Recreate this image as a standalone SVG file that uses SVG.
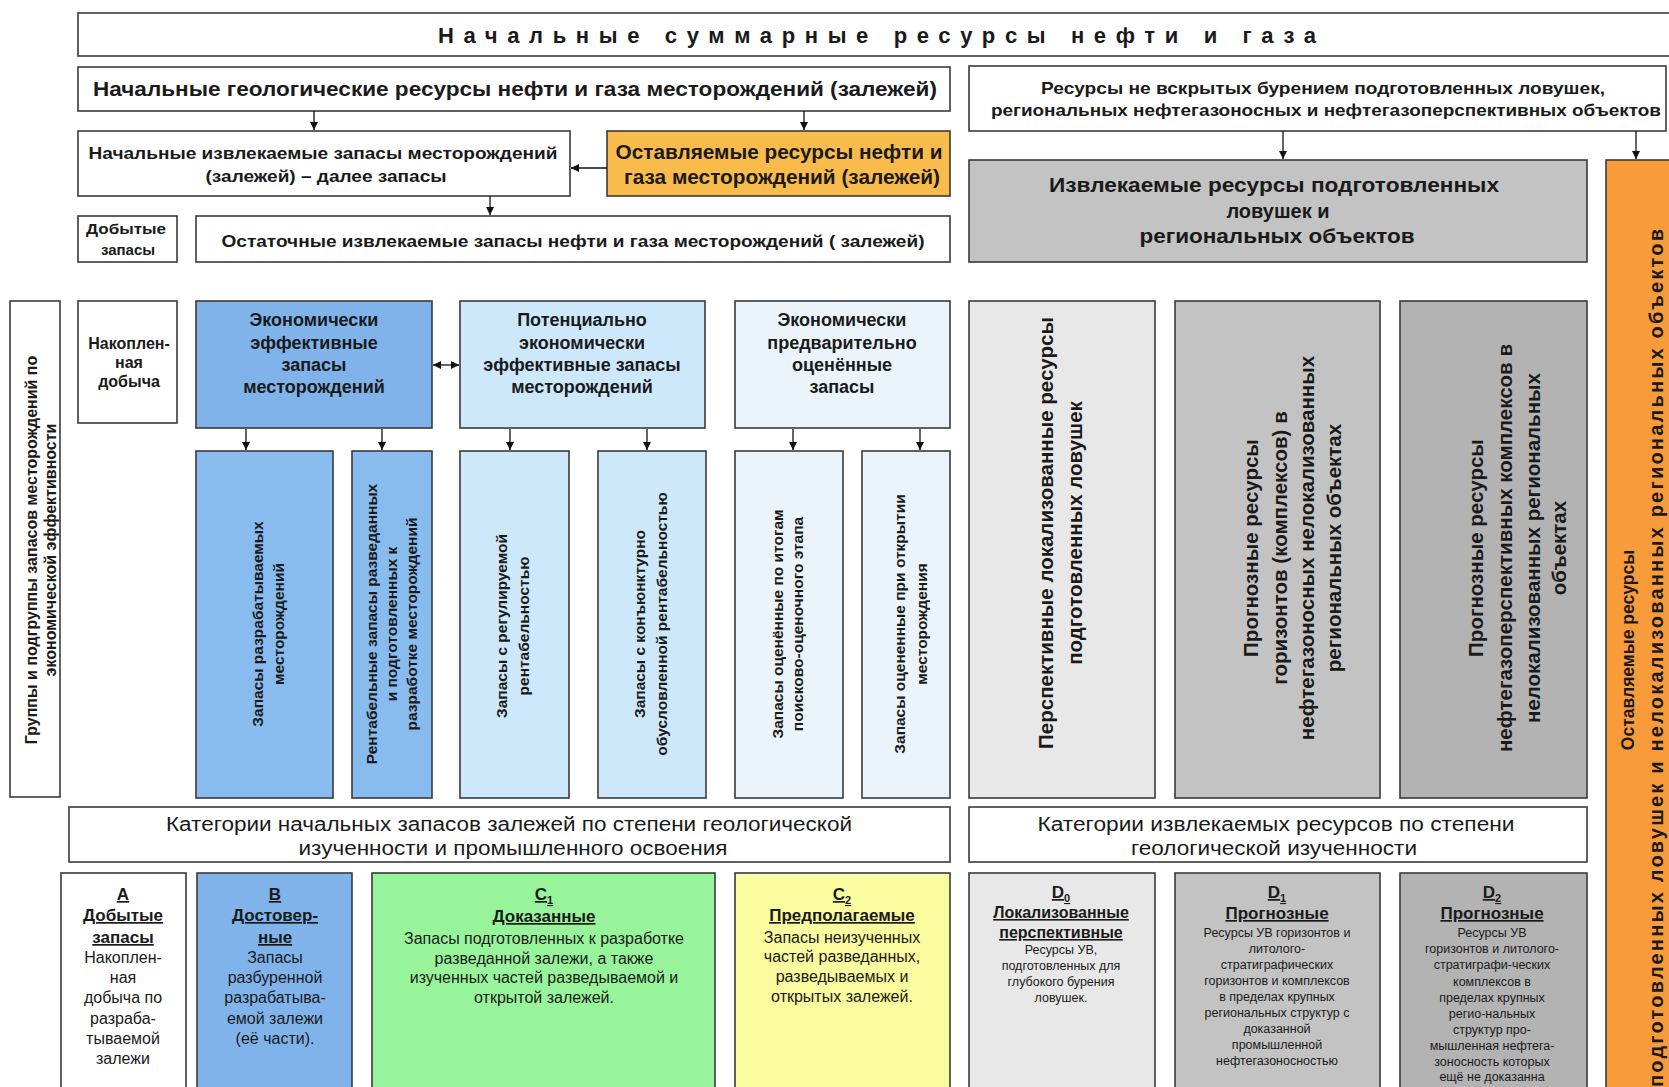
<svg xmlns="http://www.w3.org/2000/svg" width="1669" height="1087" viewBox="0 0 1669 1087">
<defs>
<marker id="ah" viewBox="0 0 10 10" refX="10" refY="5" markerWidth="8" markerHeight="8" markerUnits="userSpaceOnUse" orient="auto-start-reverse"><path d="M0,0 L10,5 L0,10 z" fill="#111"/></marker>
<style>
rect{stroke:#3a3a3a;stroke-width:1.6}
.w{fill:#fff}
.gold{fill:#F8BB4C}
.org{fill:#F89B3A}
.g0{fill:#E8E8E8}
.g1{fill:#C3C3C3}
.g2{fill:#B3B3B3}
.bl{fill:#7FB3EA}
.bl2{fill:#88BBEE}
.lb{fill:#CDE8FA}
.vl{fill:#EAF4FA}
.gr{fill:#98F49A}
.ye{fill:#FAFA9E}
text{font-family:"Liberation Sans",Arial,sans-serif;fill:#1a1a1a;text-anchor:middle}
.bd{font-weight:bold}
.u{text-decoration:underline}
.con line{stroke:#111;stroke-width:1.3;marker-end:url(#ah)}
</style>
</defs>

<g id="title"><rect class="w" x="78" y="13" width="1610" height="43"/>
<text class="bd" x="438" y="43" font-size="22" style="text-anchor:start" letter-spacing="9" textLength="887" lengthAdjust="spacing">Начальные суммарные ресурсы нефти и газа</text></g>

<g id="geo"><rect class="w" x="78" y="67" width="872" height="44"/>
<text class="bd" x="515" y="96" font-size="21" textLength="844" lengthAdjust="spacingAndGlyphs">Начальные геологические ресурсы нефти и газа месторождений (залежей)</text></g>

<g id="unopened"><rect class="w" x="969" y="66" width="697" height="65"/>
<text class="bd" x="1323" y="94" font-size="16.5" textLength="564" lengthAdjust="spacingAndGlyphs">Ресурсы не вскрытых бурением подготовленных ловушек,</text>
<text class="bd" x="1326" y="116" font-size="16.5" textLength="670" lengthAdjust="spacingAndGlyphs">региональных нефтегазоносных и нефтегазоперспективных объектов</text></g>

<g id="initial-recoverable"><rect class="w" x="78" y="131" width="492" height="65"/>
<text class="bd" x="323" y="159" font-size="17" textLength="469" lengthAdjust="spacingAndGlyphs">Начальные извлекаемые запасы месторождений</text>
<text class="bd" x="326" y="182" font-size="17" textLength="241" lengthAdjust="spacingAndGlyphs">(залежей) – далее запасы</text></g>

<g id="left-resources"><rect class="gold" x="607" y="131" width="343" height="65"/>
<text class="bd" x="779" y="159" font-size="19.5" textLength="327" lengthAdjust="spacingAndGlyphs">Оставляемые ресурсы нефти и</text>
<text class="bd" x="782" y="184" font-size="19.5" textLength="316" lengthAdjust="spacingAndGlyphs">газа месторождений (залежей)</text></g>

<g id="extracted"><rect class="w" x="78" y="216" width="99" height="46"/>
<text class="bd" x="126" y="234" font-size="15" textLength="80" lengthAdjust="spacingAndGlyphs">Добытые</text>
<text class="bd" x="128" y="255" font-size="15">запасы</text></g>

<g id="residual"><rect class="w" x="196" y="216" width="754" height="46"/>
<text class="bd" x="573" y="247" font-size="17" textLength="703" lengthAdjust="spacingAndGlyphs">Остаточные извлекаемые запасы нефти и газа месторождений ( залежей)</text></g>

<g id="recoverable-traps"><rect class="g1" x="969" y="160" width="618" height="102"/>
<text class="bd" x="1274" y="192" font-size="20" textLength="450" lengthAdjust="spacingAndGlyphs">Извлекаемые ресурсы подготовленных</text>
<text class="bd" x="1278" y="218" font-size="20">ловушек и</text>
<text class="bd" x="1277" y="243" font-size="20" textLength="275" lengthAdjust="spacingAndGlyphs">региональных объектов</text></g>

<g id="left-traps"><rect class="org" x="1606" y="160" width="80" height="940"/>
<text class="bd" font-size="17.5" transform="translate(1634,650) rotate(-90)">Оставляемые ресурсы</text>
<text class="bd" font-size="20" transform="translate(1663,658) rotate(-90)" textLength="858" lengthAdjust="spacing">подготовленных ловушек и нелокализованных региональных объектов</text></g>

<g id="groups"><rect class="w" x="10" y="301" width="50" height="496"/>
<text class="bd" font-size="16" transform="translate(37,550) rotate(-90)">Группы и подгруппы запасов месторождений по</text>
<text class="bd" font-size="16" transform="translate(56,550) rotate(-90)">экономической эффективности</text></g>

<g id="accumulated"><rect class="w" x="78" y="301" width="99" height="122"/>
<text class="bd" x="129" y="349" font-size="16">Накоплен-</text>
<text class="bd" x="129" y="368" font-size="16">ная</text>
<text class="bd" x="129" y="387" font-size="16">добыча</text></g>

<g id="eco-effective"><rect class="bl" x="196" y="301" width="236" height="127"/>
<text class="bd" x="314" y="326" font-size="18">Экономически</text>
<text class="bd" x="314" y="349" font-size="18">эффективные</text>
<text class="bd" x="314" y="371" font-size="18">запасы</text>
<text class="bd" x="314" y="393" font-size="18">месторождений</text></g>

<g id="potential"><rect class="lb" x="460" y="301" width="245" height="127"/>
<text class="bd" x="582" y="326" font-size="18">Потенциально</text>
<text class="bd" x="582" y="349" font-size="18">экономически</text>
<text class="bd" x="582" y="371" font-size="18">эффективные запасы</text>
<text class="bd" x="582" y="393" font-size="18">месторождений</text></g>

<g id="preliminary"><rect class="vl" x="735" y="301" width="215" height="127"/>
<text class="bd" x="842" y="326" font-size="18">Экономически</text>
<text class="bd" x="842" y="349" font-size="18">предварительно</text>
<text class="bd" x="842" y="371" font-size="18">оценённые</text>
<text class="bd" x="842" y="393" font-size="18">запасы</text></g>

<g id="sub1"><rect class="bl2" x="196" y="451" width="137" height="347"/>
<text class="bd" font-size="15.5" transform="translate(263,624) rotate(-90)">Запасы разрабатываемых</text>
<text class="bd" font-size="15.5" transform="translate(284,624) rotate(-90)">месторождений</text></g>

<g id="sub2"><rect class="bl2" x="352" y="451" width="80" height="347"/>
<text class="bd" font-size="15.5" transform="translate(377,624) rotate(-90)">Рентабельные запасы разведанных</text>
<text class="bd" font-size="15.5" transform="translate(397,624) rotate(-90)">и подготовленных к</text>
<text class="bd" font-size="15.5" transform="translate(417,624) rotate(-90)">разработке  месторождений</text></g>

<g id="sub3"><rect class="lb" x="460" y="451" width="109" height="347"/>
<text class="bd" font-size="15.5" transform="translate(507,626) rotate(-90)">Запасы с регулируемой</text>
<text class="bd" font-size="15.5" transform="translate(529,626) rotate(-90)">рентабельностью</text></g>

<g id="sub4"><rect class="lb" x="598" y="451" width="108" height="347"/>
<text class="bd" font-size="15.5" transform="translate(645,624) rotate(-90)">Запасы с конъюнктурно</text>
<text class="bd" font-size="15.5" transform="translate(667,624) rotate(-90)">обусловленной рентабельностью</text></g>

<g id="sub5"><rect class="vl" x="735" y="451" width="108" height="347"/>
<text class="bd" font-size="15.5" transform="translate(783,624) rotate(-90)">Запасы оценённые по итогам</text>
<text class="bd" font-size="15.5" transform="translate(803,624) rotate(-90)">поисково-оценочного этапа</text></g>

<g id="sub6"><rect class="vl" x="862" y="451" width="88" height="347"/>
<text class="bd" font-size="15.5" transform="translate(905,624) rotate(-90)">Запасы оцененные при открытии</text>
<text class="bd" font-size="15.5" transform="translate(927,624) rotate(-90)">месторождения</text></g>

<g id="r1"><rect class="g0" x="969" y="301" width="186" height="497"/>
<text class="bd" font-size="20.5" transform="translate(1053,533) rotate(-90)">Перспективные локализованные ресурсы</text>
<text class="bd" font-size="20.5" transform="translate(1082,533) rotate(-90)">подготовленных ловушек</text></g>

<g id="r2"><rect class="g1" x="1175" y="301" width="205" height="497"/>
<text class="bd" font-size="20.5" transform="translate(1258,548) rotate(-90)">Прогнозные ресурсы</text>
<text class="bd" font-size="20.5" transform="translate(1287,548) rotate(-90)">горизонтов (комплексов) в</text>
<text class="bd" font-size="20.5" transform="translate(1314,548) rotate(-90)">нефтегазоносных нелокализованных</text>
<text class="bd" font-size="20.5" transform="translate(1341,548) rotate(-90)">региональных объектах</text></g>

<g id="r3"><rect class="g2" x="1400" y="301" width="187" height="497"/>
<text class="bd" font-size="20.5" transform="translate(1483,548) rotate(-90)">Прогнозные ресурсы</text>
<text class="bd" font-size="20.5" transform="translate(1512,548) rotate(-90)">нефтегазоперспективных комплексов в</text>
<text class="bd" font-size="20.5" transform="translate(1540,548) rotate(-90)">нелокализованных региональных</text>
<text class="bd" font-size="20.5" transform="translate(1566,548) rotate(-90)">объектах</text></g>

<g id="cat-reserves"><rect class="w" x="69" y="807" width="881" height="55"/>
<text x="509" y="831" font-size="20" textLength="686" lengthAdjust="spacingAndGlyphs">Категории начальных запасов залежей по степени геологической</text>
<text x="513" y="855" font-size="20" textLength="429" lengthAdjust="spacingAndGlyphs">изученности и промышленного освоения</text></g>

<g id="cat-resources"><rect class="w" x="969" y="807" width="618" height="55"/>
<text x="1276" y="831" font-size="20" textLength="477" lengthAdjust="spacingAndGlyphs">Категории извлекаемых ресурсов по степени</text>
<text x="1274" y="855" font-size="20" textLength="286" lengthAdjust="spacingAndGlyphs">геологической изученности</text></g>

<g id="cat-A"><rect class="w" x="61" y="873" width="125" height="230"/>
<text class="bd u" x="123" y="900" font-size="17">А</text>
<text class="bd u" x="123" y="921" font-size="17">Добытые</text>
<text class="bd u" x="123" y="943" font-size="17">запасы</text>
<text x="123" y="963" font-size="16">Накоплен-</text>
<text x="123" y="983" font-size="16">ная</text>
<text x="123" y="1003" font-size="16">добыча по</text>
<text x="123" y="1024" font-size="16">разраба-</text>
<text x="123" y="1044" font-size="16">тываемой</text>
<text x="123" y="1064" font-size="16">залежи</text></g>

<g id="cat-B"><rect class="bl" x="197" y="873" width="155" height="230"/>
<text class="bd u" x="275" y="900" font-size="17">В</text>
<text class="bd u" x="275" y="921" font-size="17">Достовер-</text>
<text class="bd u" x="275" y="943" font-size="17">ные</text>
<text x="275" y="963" font-size="16">Запасы</text>
<text x="275" y="983" font-size="16">разбуренной</text>
<text x="275" y="1003" font-size="16">разрабатыва-</text>
<text x="275" y="1024" font-size="16">емой залежи</text>
<text x="275" y="1044" font-size="16">(её части).</text></g>

<g id="cat-C1"><rect class="gr" x="372" y="873" width="343" height="230"/>
<text class="bd u" x="544" y="900" font-size="17">С<tspan font-size="11" dy="4">1</tspan></text>
<text class="bd u" x="544" y="922" font-size="17">Доказанные</text>
<text x="544" y="944" font-size="16">Запасы подготовленных к разработке</text>
<text x="544" y="964" font-size="16">разведанной залежи, а также</text>
<text x="544" y="983" font-size="16">изученных частей разведываемой и</text>
<text x="544" y="1003" font-size="16">открытой залежей.</text></g>

<g id="cat-C2"><rect class="ye" x="735" y="873" width="215" height="230"/>
<text class="bd u" x="842" y="900" font-size="17">С<tspan font-size="11" dy="4">2</tspan></text>
<text class="bd u" x="842" y="921" font-size="17">Предполагаемые</text>
<text x="842" y="943" font-size="16">Запасы неизученных</text>
<text x="842" y="962" font-size="16">частей разведанных,</text>
<text x="842" y="982" font-size="16">разведываемых и</text>
<text x="842" y="1002" font-size="16">открытых залежей.</text></g>

<g id="cat-D0"><rect class="g0" x="969" y="873" width="186" height="230"/>
<text class="bd u" x="1061" y="898" font-size="17">D<tspan font-size="11" dy="4">0</tspan></text>
<text class="bd u" x="1061" y="918" font-size="16">Локализованные</text>
<text class="bd u" x="1061" y="938" font-size="16">перспективные</text>
<text x="1061" y="954" font-size="12.5">Ресурсы УВ,</text>
<text x="1061" y="970" font-size="12.5">подготовленных для</text>
<text x="1061" y="986" font-size="12.5">глубокого бурения</text>
<text x="1061" y="1002" font-size="12.5">ловушек.</text></g>

<g id="cat-D1"><rect class="g1" x="1175" y="873" width="205" height="230"/>
<text class="bd u" x="1277" y="898" font-size="17">D<tspan font-size="11" dy="4">1</tspan></text>
<text class="bd u" x="1277" y="919" font-size="17">Прогнозные</text>
<text x="1277" y="937" font-size="12.5">Ресурсы УВ горизонтов и</text>
<text x="1277" y="953" font-size="12.5">литолого-</text>
<text x="1277" y="969" font-size="12.5">стратиграфических</text>
<text x="1277" y="985" font-size="12.5">горизонтов и комплексов</text>
<text x="1277" y="1001" font-size="12.5">в пределах крупных</text>
<text x="1277" y="1017" font-size="12.5">региональных структур с</text>
<text x="1277" y="1033" font-size="12.5">доказанной</text>
<text x="1277" y="1049" font-size="12.5">промышленной</text>
<text x="1277" y="1065" font-size="12.5">нефтегазоносностью</text></g>

<g id="cat-D2"><rect class="g2" x="1400" y="873" width="187" height="230"/>
<text class="bd u" x="1492" y="898" font-size="17">D<tspan font-size="11" dy="4">2</tspan></text>
<text class="bd u" x="1492" y="919" font-size="17">Прогнозные</text>
<text x="1492" y="937" font-size="12.5">Ресурсы УВ</text>
<text x="1492" y="953" font-size="12.5">горизонтов и литолого-</text>
<text x="1492" y="969" font-size="12.5">стратиграфи-ческих</text>
<text x="1492" y="986" font-size="12.5">комплексов в</text>
<text x="1492" y="1002" font-size="12.5">пределах крупных</text>
<text x="1492" y="1018" font-size="12.5">регио-нальных</text>
<text x="1492" y="1034" font-size="12.5">структур про-</text>
<text x="1492" y="1050" font-size="12.5">мышленная нефтега-</text>
<text x="1492" y="1066" font-size="12.5">зоносность которых</text>
<text x="1492" y="1081" font-size="12.5">ещё не доказанна</text></g>

<g id="connectors" class="con">
<line x1="314" y1="111" x2="314" y2="130"/>
<line x1="804" y1="111" x2="804" y2="130"/>
<line x1="607" y1="168" x2="571" y2="168"/>
<line x1="490" y1="196" x2="490" y2="215"/>
<line x1="1283" y1="131" x2="1283" y2="159"/>
<line x1="1636" y1="131" x2="1636" y2="159"/>
<line x1="433" y1="365" x2="459" y2="365" style="marker-start:url(#ah)"/>
<line x1="246" y1="429" x2="246" y2="450"/>
<line x1="382" y1="429" x2="382" y2="450"/>
<line x1="510" y1="429" x2="510" y2="450"/>
<line x1="647" y1="429" x2="647" y2="450"/>
<line x1="793" y1="429" x2="793" y2="450"/>
<line x1="920" y1="429" x2="920" y2="450"/>
</g>
</svg>
